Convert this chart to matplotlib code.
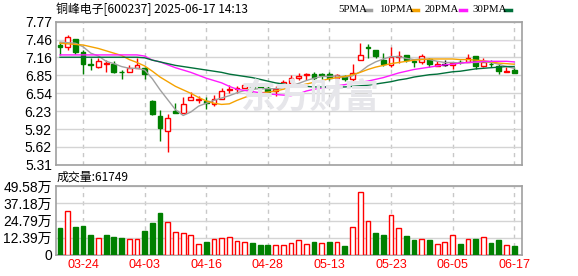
import numpy as np
import matplotlib
matplotlib.use("Agg")
import matplotlib.pyplot as plt
from matplotlib.lines import Line2D

plt.rcParams['font.family'] = ['Liberation Sans', 'Noto Sans CJK SC']

# ---------------- data ----------------
dates = ["03-19", "03-20", "03-21", "03-24", "03-25", "03-26", "03-27", "03-28", "03-31",
         "04-01", "04-02", "04-03", "04-07", "04-08", "04-09", "04-10", "04-11", "04-14",
         "04-15", "04-16", "04-17", "04-18", "04-21", "04-22", "04-23", "04-24", "04-25",
         "04-28", "04-29", "04-30", "05-06", "05-07", "05-08", "05-09", "05-12", "05-13",
         "05-14", "05-15", "05-16", "05-19", "05-20", "05-21", "05-22", "05-23", "05-26",
         "05-27", "05-28", "05-29", "05-30", "06-03", "06-04", "06-05", "06-06", "06-09",
         "06-10", "06-11", "06-12", "06-13", "06-16", "06-17"]

opens = [7.37, 7.33, 7.47, 7.25, 7.05, 7.00, 7.05, 7.05, 6.91, 6.90,
         6.98, 6.97, 6.41, 6.15, 5.89, 6.23, 6.21, 6.43, 6.43, 6.41,
         6.35, 6.45, 6.60, 6.61, 6.64, 6.70, 6.68, 6.63, 6.58, 6.66,
         6.72, 6.81, 6.86, 6.87, 6.87, 6.87, 6.80, 6.83, 6.78, 7.11,
         7.34, 7.29, 7.12, 7.03, 7.16, 7.19, 7.10, 7.07, 7.13, 7.01,
         7.03, 7.02, 7.08, 7.08, 7.18, 7.01, 7.05, 7.01, 6.90, 6.94]
closes = [7.33, 7.50, 7.25, 7.05, 7.02, 7.09, 7.06, 6.91, 6.90, 6.98,
          7.02, 6.87, 6.18, 5.95, 6.11, 6.20, 6.35, 6.47, 6.45, 6.37,
          6.44, 6.58, 6.62, 6.63, 6.68, 6.63, 6.64, 6.56, 6.61, 6.74,
          6.80, 6.83, 6.88, 6.80, 6.86, 6.80, 6.86, 6.79, 6.89, 7.20,
          7.31, 7.18, 7.04, 7.16, 7.18, 7.11, 7.07, 7.18, 7.04, 7.05,
          7.03, 7.06, 7.07, 7.14, 7.01, 7.07, 7.04, 6.92, 6.93, 6.89]
highs = [7.42, 7.55, 7.47, 7.29, 7.15, 7.15, 7.12, 7.09, 6.94, 7.03,
         7.14, 7.00, 6.43, 6.26, 6.18, 6.37, 6.47, 6.57, 6.49, 6.48,
         6.52, 6.63, 6.68, 6.67, 6.72, 6.70, 6.68, 6.66, 6.66, 6.77,
         6.85, 6.89, 6.89, 6.91, 6.89, 6.91, 6.87, 6.86, 7.05, 7.40,
         7.39, 7.29, 7.24, 7.34, 7.26, 7.19, 7.12, 7.21, 7.15, 7.09,
         7.11, 7.08, 7.11, 7.21, 7.18, 7.15, 7.11, 7.05, 7.00, 6.99]
lows = [7.19, 7.29, 7.22, 6.88, 6.94, 6.98, 6.91, 6.89, 6.79, 6.90,
        6.98, 6.79, 6.17, 5.72, 5.53, 6.20, 6.21, 6.42, 6.38, 6.27,
        6.33, 6.44, 6.54, 6.55, 6.63, 6.57, 6.57, 6.52, 6.49, 6.65,
        6.71, 6.77, 6.77, 6.72, 6.79, 6.77, 6.77, 6.76, 6.76, 7.11,
        7.14, 7.14, 7.01, 7.00, 7.06, 7.07, 7.00, 7.05, 7.00, 7.01,
        7.01, 6.96, 7.05, 7.07, 6.95, 6.99, 6.99, 6.87, 6.90, 6.89]

ma5 = [7.42, 7.41, 7.40, 7.34, 7.23, 7.18, 7.09, 7.05, 7.00, 6.97,
       6.97, 6.94, 6.79, 6.60, 6.43, 6.26, 6.16, 6.22, 6.32, 6.37,
       6.42, 6.46, 6.50, 6.55, 6.59, 6.61, 6.62, 6.62, 6.62, 6.64,
       6.67, 6.71, 6.76, 6.80, 6.83, 6.83, 6.84, 6.82, 6.84, 6.91,
       7.01, 7.08, 7.13, 7.17, 7.17, 7.14, 7.12, 7.13, 7.12, 7.09,
       7.07, 7.07, 7.06, 7.07, 7.07, 7.08, 7.07, 7.04, 7.00, 6.97]
ma10 = [7.40, 7.39, 7.38, 7.37, 7.34, 7.31, 7.27, 7.23, 7.19, 7.12,
        7.07, 7.01, 6.92, 6.82, 6.74, 6.66, 6.60, 6.54, 6.47, 6.41,
        6.37, 6.35, 6.36, 6.42, 6.47, 6.52, 6.55, 6.56, 6.58, 6.61,
        6.65, 6.67, 6.70, 6.73, 6.76, 6.79, 6.81, 6.83, 6.86, 6.90,
        6.95, 6.99, 7.02, 7.05, 7.07, 7.09, 7.11, 7.12, 7.13, 7.13,
        7.13, 7.13, 7.12, 7.12, 7.11, 7.10, 7.08, 7.06, 7.05, 7.04]
ma20 = [7.20, 7.20, 7.20, 7.20, 7.20, 7.20, 7.20, 7.20, 7.20, 7.20,
        7.20, 7.18, 7.11, 7.08, 7.03, 6.98, 6.94, 6.90, 6.85, 6.80,
        6.76, 6.72, 6.66, 6.61, 6.59, 6.57, 6.55, 6.53, 6.52, 6.51,
        6.50, 6.53, 6.58, 6.61, 6.63, 6.65, 6.67, 6.69, 6.71, 6.73,
        6.75, 6.78, 6.81, 6.85, 6.89, 6.92, 6.95, 6.97, 6.99, 7.01,
        7.03, 7.04, 7.06, 7.07, 7.08, 7.09, 7.09, 7.09, 7.09, 7.08]
ma30 = [7.16, 7.16, 7.16, 7.16, 7.16, 7.16, 7.16, 7.16, 7.16, 7.16,
        7.16, 7.15, 7.11, 7.08, 7.05, 7.02, 7.00, 6.98, 6.96, 6.94,
        6.92, 6.90, 6.87, 6.85, 6.83, 6.81, 6.78, 6.75, 6.72, 6.70,
        6.68, 6.67, 6.66, 6.65, 6.65, 6.65, 6.65, 6.65, 6.66, 6.67,
        6.68, 6.70, 6.72, 6.74, 6.77, 6.79, 6.82, 6.84, 6.86, 6.87,
        6.89, 6.91, 6.92, 6.94, 6.96, 6.97, 6.98, 6.99, 7.00, 7.00]

# volume in 万 (10k shares)
volumes = [19.5, 31.5, 20.2, 20.9, 14.6, 12.2, 14.6, 13.2, 12.5, 11.5,
           11.5, 17.4, 23.1, 30.1, 23.5, 16.5, 15.8, 14.4, 8.0, 9.6,
           11.5, 12.2, 12.9, 10.1, 9.4, 8.9, 7.5, 7.5, 7.3, 7.3,
           8.7, 10.8, 8.0, 9.6, 8.7, 9.6, 9.4, 6.8, 20.0, 45.4,
           24.2, 16.0, 14.6, 28.5, 19.3, 13.9, 11.1, 11.5, 11.1, 8.0,
           9.4, 14.4, 8.2, 11.5, 11.8, 12.9, 8.9, 11.1, 7.3, 6.17]
# 1 = red (up) volume bar, 0 = green (down)
volume_up = [0, 1, 0, 0, 0, 1, 0, 0, 0, 1,
             1, 0, 0, 0, 1, 1, 1, 1, 1, 0,
             1, 1, 1, 1, 1, 0, 0, 0, 1, 1,
             1, 1, 1, 0, 1, 0, 1, 0, 1, 1,
             1, 0, 0, 1, 1, 0, 0, 1, 0, 1,
             1, 1, 0, 1, 0, 1, 0, 0, 1, 0]

price_ticks = [5.31, 5.62, 5.92, 6.23, 6.54, 6.85, 7.16, 7.46, 7.77]
price_tick_labels = ["5.31", "5.62", "5.92", "6.23", "6.54", "6.85", "7.16", "7.46", "7.77"]
vol_ticks = [0, 12.39, 24.79, 37.18, 49.58]
vol_tick_labels = ["0", "12.39万", "24.79万", "37.18万", "49.58万"]
date_tick_labels = ["03-24", "04-03", "04-16", "04-28", "05-13", "05-23", "06-05", "06-17"]

title_text = "铜峰电子[600237] 2025-06-17 14:13"
volume_title = "成交量:61749"
ma_names = ["5PMA", "10PMA", "20PMA", "30PMA"]

# ---------------- style ----------------
RED = "#ff0000"
GREEN = "#008000"
MA_COLORS = ["#a0a0a0", "#f5a200", "#ff1aff", "#00703a"]
SPINE = "#a0a0a0"
GRID = "#d4d4d4"

W, H = 578, 276
fig = plt.figure(figsize=(W / 100, H / 100), dpi=100)
fig.patch.set_facecolor("white")


def rect(l, t, r, b):
    return [l / W, 1 - b / H, (r - l) / W, (b - t) / H]


ax = fig.add_axes(rect(56, 21.7, 522, 165))
axv = fig.add_axes(rect(56, 186, 522, 255))

n = len(closes)
x = np.arange(n)
tick_idx = [dates.index(d) for d in date_tick_labels]
XLIM = (-0.52, n + 0.02)

# watermark
fig.text(310 / W, 1 - 97 / H, "东方财富", fontsize=25, fontweight="bold",
         color="#e6e6ea", ha="center", va="center", zorder=0,
         family=["Noto Sans CJK SC"])

# candles
for i in range(n):
    o, c, h, l = opens[i], closes[i], highs[i], lows[i]
    if c > o:
        col, face = RED, "white"
    elif c < o:
        col, face = GREEN, GREEN
    else:
        col, face = "black", "black"
    ax.vlines(x[i], l, h, color=col, lw=1.0, zorder=2)
    ax.bar(x[i], max(abs(c - o), 0.006), bottom=min(o, c), width=0.62,
           facecolor=face, edgecolor=col, lw=1.0, zorder=3)

for vals, col in zip([ma5, ma10, ma20, ma30], MA_COLORS):
    ax.plot(x, vals, color=col, lw=1.0, zorder=4)

ax.set_xlim(*XLIM)
ax.set_ylim(price_ticks[0], price_ticks[-1])
ax.set_yticks(price_ticks)
ax.set_yticklabels(price_tick_labels)
ax.set_xticks(tick_idx)
ax.set_xticklabels([])

# volume bars
for i in range(n):
    if volume_up[i]:
        axv.bar(x[i], volumes[i], width=0.62, facecolor="white", edgecolor=RED, lw=1.0, zorder=3)
    else:
        axv.bar(x[i], volumes[i], width=0.62, facecolor=GREEN, edgecolor=GREEN, lw=1.0, zorder=3)

axv.set_xlim(*XLIM)
axv.set_ylim(0, vol_ticks[-1])
axv.set_yticks(vol_ticks)
axv.set_yticklabels(vol_tick_labels)
axv.set_xticks(tick_idx)
axv.set_xticklabels(date_tick_labels)

for a in (ax, axv):
    for s in a.spines.values():
        s.set_color(SPINE)
        s.set_linewidth(1.2)
    a.tick_params(length=0, labelsize=10, colors="black", pad=3)
    a.yaxis.grid(True, color=GRID, lw=1.0, zorder=0)
    a.xaxis.grid(True, color="#c8c8c8", lw=1.0, linestyle=(0, (3, 3)), zorder=0)
    a.set_axisbelow(True)
    a.patch.set_alpha(0)

axv.tick_params(axis="x", colors=RED, labelsize=9, pad=3)

# titles
fig.text(56 / W, 1 - 9 / H, title_text, fontsize=8.6, ha="left", va="center",
         family=["Noto Sans CJK SC"])
fig.text(57 / W, 1 - 177 / H, volume_title, fontsize=8.6, ha="left", va="center",
         family=["Noto Sans CJK SC"])

# legend
label_x = [338, 379, 425, 472]
dash_x = [365, 412, 460, 505]
for name, lx, dx, col in zip(ma_names, label_x, dash_x, MA_COLORS):
    fig.text(lx / W, 1 - 9 / H, name, fontsize=7.8, ha="left", va="center",
             family=["Liberation Serif"])
    fig.add_artist(Line2D([dx / W, (dx + 6) / W], [1 - 9.5 / H, 1 - 9.5 / H],
                          color=col, lw=2.5, transform=fig.transFigure))

fig.savefig("out.png", dpi=100, facecolor="white")
